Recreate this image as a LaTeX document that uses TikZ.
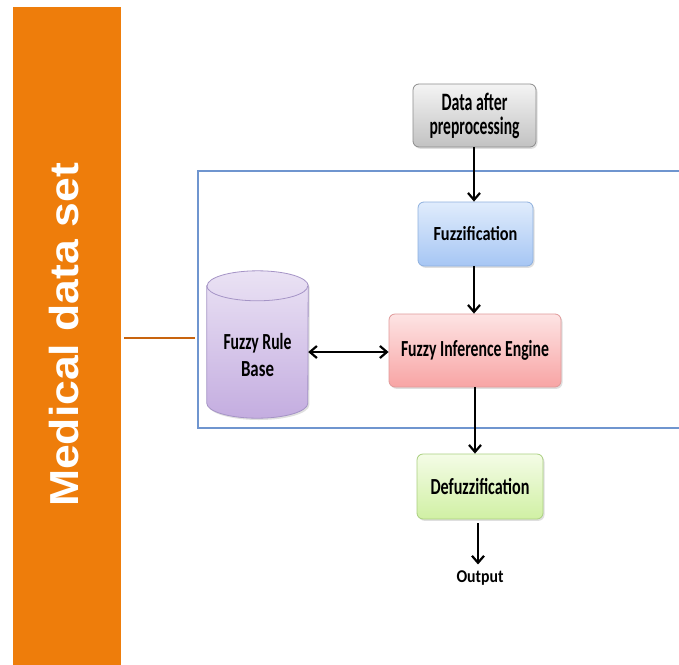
\documentclass[tikz,border=0pt]{standalone}
\usepackage{fontspec}
\usepackage{graphicx}
\setmainfont{Carlito}
\newfontfamily\headfont{Liberation Sans}
\usetikzlibrary{arrows.meta,shadows}

\definecolor{barorange}{HTML}{EE7D0B}
\definecolor{linkorange}{HTML}{C8640E}
\definecolor{frameblue}{HTML}{6F95CF}
\definecolor{graytop}{HTML}{F4F4F4}\definecolor{graybot}{HTML}{C2C2C2}\definecolor{graybd}{HTML}{8C8C8C}
\definecolor{bluetop}{HTML}{E0ECFC}\definecolor{bluebot}{HTML}{A6C6F4}\definecolor{bluebd}{HTML}{8EB0DE}
\definecolor{redtop}{HTML}{FDE4E4}\definecolor{redbot}{HTML}{F8A4A4}\definecolor{redbd}{HTML}{E09A9A}
\definecolor{greentop}{HTML}{F4FCE6}\definecolor{greenbot}{HTML}{D0F0A4}\definecolor{greenbd}{HTML}{AACF80}
\definecolor{purptop}{HTML}{EAE2F4}\definecolor{purpbot}{HTML}{C4ADE0}\definecolor{purpbd}{HTML}{A594C6}

% set #3 at size #2 (bold) and stretch it horizontally to width #1 (pt)
\newcommand\fitw[3]{\begingroup\fontsize{#2}{#2}\selectfont\bfseries
  \sbox0{#3}\pgfmathsetmacro\fitratio{#1/\wd0}\scalebox{\fitratio}[1]{\usebox0}\endgroup}

\tikzset{
  stagebox/.style={rounded corners=6pt, draw=#1bd, line width=0.8pt,
    top color=#1top, bottom color=#1bot, inner sep=0pt, align=center,
    drop shadow={shadow xshift=1.5pt, shadow yshift=-1.8pt, opacity=0.25}},
  barb/.tip={Straight Barb[length=7pt,width=12pt,line width=2.2pt]},
  flow/.style={line width=2.5pt, -barb},
  twoway/.style={line width=2.5pt, barb-barb}
}

\begin{document}
\begin{tikzpicture}[x=1pt,y=-1pt]
\useasboundingbox[fill=white] (0,0) rectangle (679,664);

% orange side bar with its vertical title
\node[fill=barorange, anchor=north west, minimum width=108pt, minimum height=670pt, inner sep=0pt] (bar) at (13,7) {};
\node[rotate=90, text=white, inner sep=0pt] (medtitle) at (64,335)
  {\scalebox{1}[0.91]{\headfont\bfseries\fontsize{44.5}{50}\selectfont Medical data set}};

% blue frame round the fuzzy system
\draw[frameblue, line width=1.8pt] (198,171) rectangle (690,428);
\coordinate (linkA) at (124,338);
\coordinate (linkB) at (195,338);
\draw[linkorange, line width=2.5pt] (linkA) -- (linkB);

% processing stages
\node[stagebox=gray, minimum width=123pt, minimum height=63pt,
      font=\fontsize{25}{24}\selectfont] (data) at (474.5,115.5)
  {\fitw{66}{25}{Data after}\\\fitw{90}{25}{preprocessing}};
\node[stagebox=blue, minimum width=115pt, minimum height=64pt] (fuzz) at (475.5,234)
  {\fitw{84}{20}{Fuzzification}};
\node[stagebox=red, minimum width=172pt, minimum height=73pt] (fie) at (475,350.5)
  {\fitw{148}{23}{Fuzzy Inference Engine}};
\node[stagebox=green, minimum width=126pt, minimum height=65pt] (defuzz) at (480,486.5)
  {\fitw{99}{23}{Defuzzification}};
\node[inner sep=0pt] (output) at (480,578) {\fitw{47}{18}{Output}};

% rule base drawn as a cylinder
\node[minimum width=101pt, minimum height=147pt, inner sep=0pt] (rules) at (257.5,344.5) {};
\path[draw=purpbd, line width=0.8pt, top color=purptop, bottom color=purpbot,
      drop shadow={shadow xshift=1.5pt, shadow yshift=-1.8pt, opacity=0.25}]
  ([yshift=-15pt]rules.north west) -- ([yshift=15pt]rules.south west)
  arc[start angle=180, end angle=360, x radius=50.5pt, y radius=15pt]
  -- ([yshift=-15pt]rules.north east)
  arc[start angle=0, end angle=180, x radius=50.5pt, y radius=15pt] -- cycle;
\draw[purpbd, line width=0.8pt] ([yshift=-15pt]rules.north west)
  arc[start angle=180, end angle=360, x radius=50.5pt, y radius=15pt];
\node[align=center, inner sep=0pt, font=\fontsize{23}{27}\selectfont] (rulelabel)
  at ([yshift=-11pt]rules.center) {\fitw{68}{23}{Fuzzy Rule}\\\fitw{33}{23}{Base}};

% connectors
\draw[flow] (data.south -| 474,0) -- (fuzz.north -| 474,0);
\draw[flow] (fuzz.south -| 474,0) -- (fie.north -| 474,0);
\draw[flow] (fie.south -| 475,0) -- (defuzz.north -| 475,0);
\draw[flow] ([yshift=-4pt]defuzz.south -| 478,0) -- ([yshift=6pt]output.north -| 478,0);
\draw[twoway] (rules.east |- 0,352) -- (fie.west |- 0,352);
\end{tikzpicture}
\end{document}
